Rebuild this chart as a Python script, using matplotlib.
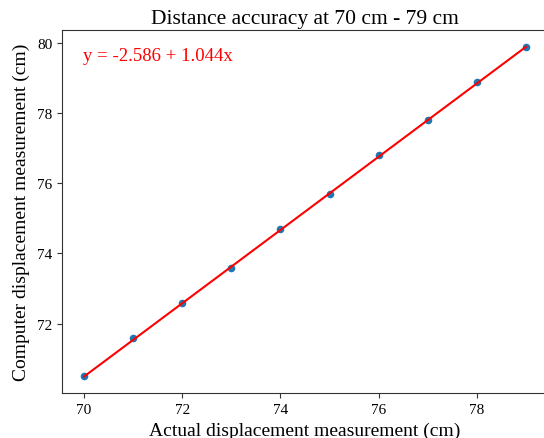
import matplotlib
matplotlib.use("Agg")
import matplotlib.pyplot as plt
import numpy as np

actual = [70, 71, 72, 73, 74, 75, 76, 77, 78, 79]
computer = [70.5, 71.6, 72.6, 73.6, 74.7, 75.7, 76.8, 77.8, 78.9, 79.9]
intercept = -2.586
slope = 1.044
title = "Distance accuracy at 70 cm - 79 cm"
xlabel = "Actual displacement measurement (cm)"
ylabel = "Computer displacement measurement (cm)"

plt.rcParams['font.family'] = ['Liberation Serif', 'DejaVu Serif']

fig = plt.figure(figsize=(5.44, 4.39), dpi=100)
ax = fig.add_axes([62/544, (439-394)/439, (548-62)/544, (394-31)/439])

x = np.array(actual, dtype=float)
ax.scatter(x, computer, s=20, color='#1f77b4', zorder=2)
ax.plot(x, intercept + slope * x, color='red', lw=1.5, zorder=3)

ax.set_title(title, fontsize=15.5, pad=5)
ax.set_xlabel(xlabel, fontsize=14)
ax.set_ylabel(ylabel, fontsize=14, labelpad=5)
ax.tick_params(labelsize=11, color='#333333')
for s in ax.spines.values():
    s.set_color('#333333')
ax.spines['right'].set_visible(False)
ax.text(0.043, 0.93, f"y = {intercept} + {slope}x", transform=ax.transAxes,
        color='red', fontsize=13.5, va='center', ha='left')

fig.savefig("out.png", dpi=100)
